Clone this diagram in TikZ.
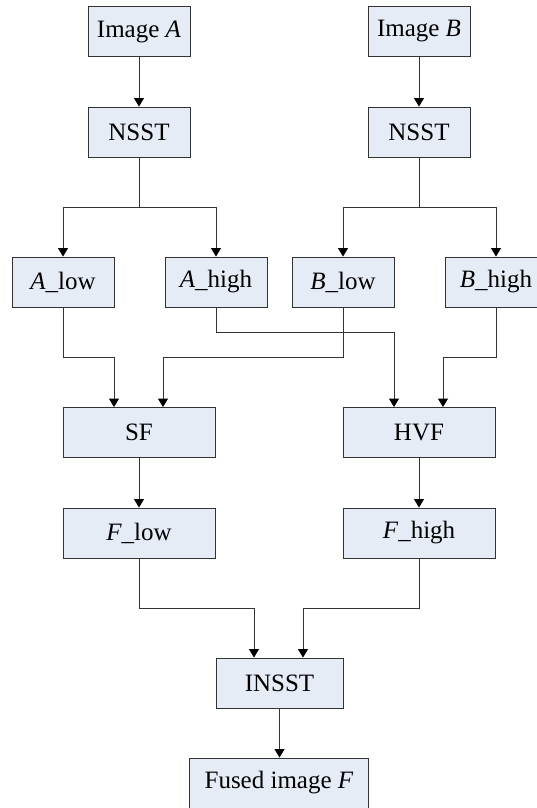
\documentclass[tikz,border=0pt]{standalone}
\usepackage{fontspec}
\setmainfont{Liberation Serif}
\usetikzlibrary{arrows.meta,calc}
\definecolor{boxfill}{HTML}{E6ECF6}
\definecolor{boxline}{HTML}{333333}
\tikzset{
  blk/.style={draw=boxline, fill=boxfill, line width=0.9pt, inner sep=0pt,
    minimum height=50pt, font=\fontsize{25}{29}\selectfont},
  narrow/.style={blk, minimum width=102pt},
  wide/.style={blk, minimum width=152pt},
  arr/.style={draw=boxline, line width=0.9pt,
    -{Triangle[length=8.5pt,width=10pt,color=black]}},
}
\begin{document}
\begin{tikzpicture}[x=1pt,y=-1pt]
\useasboundingbox (0,0) rectangle (537,808);

% decomposition inputs
\node[narrow] (imgA) at (139,31.5) {Image \textit{A}};
\node[narrow] (imgB) at (419,31.5) {Image \textit{B}};
\node[narrow] (nsstA) at (139,132) {NSST};
\node[narrow] (nsstB) at (419,132) {NSST};

% sub-bands
\node[narrow] (Alow)  at (63,282)  {\textit{A}\_low};
\node[narrow] (Ahigh) at (216,282) {\textit{A}\_high};
\node[narrow] (Blow)  at (343,282) {\textit{B}\_low};
\node[narrow] (Bhigh) at (496,282) {\textit{B}\_high};

% fusion rules
\node[wide] (SF)  at (139,432.5) {SF};
\node[wide] (HVF) at (419,432.5) {HVF};
\node[wide] (Flow)  at (139,533) {\textit{F}\_low};
\node[wide] (Fhigh) at (419,533) {\textit{F}\_high};

% reconstruction
\node[blk, minimum width=127pt] (INSST) at (279.5,683) {INSST};
\node[blk, minimum width=179pt] (fused) at (279,783) {Fused image \textit{F}};

% entry points on the fusion blocks
\coordinate (sfL) at ($(SF.north)+(-25,0)$);
\coordinate (sfR) at ($(SF.north)+(24,0)$);
\coordinate (hvL) at ($(HVF.north)+(-25,0)$);
\coordinate (hvR) at ($(HVF.north)+(24,0)$);
\coordinate (inL) at ($(INSST.north)+(-25.5,0)$);
\coordinate (inR) at ($(INSST.north)+(23.5,0)$);

% connectors
\draw[arr] (imgA) -- (nsstA);
\draw[arr] (imgB) -- (nsstB);
\draw[arr] (nsstA.south) -- ++(0,50) -| (Alow.north);
\draw[arr] (nsstA.south) -- ++(0,50) -| (Ahigh.north);
\draw[arr] (nsstB.south) -- ++(0,50) -| (Blow.north);
\draw[arr] (nsstB.south) -- ++(0,50) -| (Bhigh.north);

\draw[arr] (Alow.south) -- ++(0,50) -| (sfL);
\draw[arr] (Blow.south) -- ++(0,50) -| (sfR);
\draw[arr] (Ahigh.south) -- ++(0,25) -| (hvL);
\draw[arr] (Bhigh.south) -- ++(0,50) -| (hvR);

\draw[arr] (SF) -- (Flow);
\draw[arr] (HVF) -- (Fhigh);
\draw[arr] (Flow.south) -- ++(0,50) -| (inL);
\draw[arr] (Fhigh.south) -- ++(0,50) -| (inR);
\draw[arr] (INSST.south) -- (INSST.south |- fused.north);
\end{tikzpicture}
\end{document}
